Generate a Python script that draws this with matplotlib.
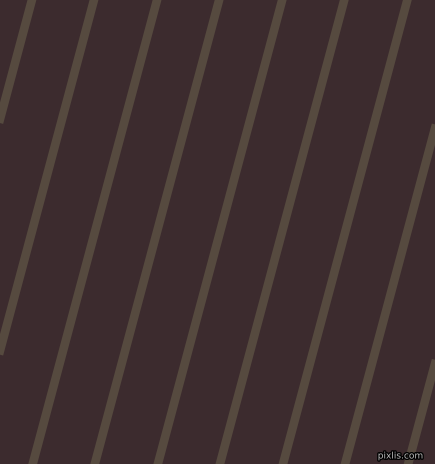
import numpy as np
import matplotlib
matplotlib.use('Agg')
import matplotlib.pyplot as plt
import matplotlib.patheffects as pe

# image size in pixels
W, H = 435, 464

# stripe positions: x where each stripe crosses the top edge
stripe_top_x = [32, 94, 157, 219, 282, 344, 407, 469, 532]
stripe_angle = 75  # degrees from horizontal
stripe_width_px = 8.6

bg_color = '#3c2b2e'
stripe_color = '#564a3f'

fig = plt.figure(figsize=((W + 0.5) / 100, (H + 0.5) / 100), dpi=100)
ax = fig.add_axes([0, 0, 1, 1])
ax.set_xlim(0, W)
ax.set_ylim(H, 0)
ax.axis('off')
fig.patch.set_facecolor(bg_color)
ax.set_facecolor(bg_color)

# dx per pixel of y
k = 1 / np.tan(np.radians(stripe_angle))
ys = np.array([-20, H + 20])
for x0 in stripe_top_x:
    xs = x0 - k * ys
    ax.plot(xs, ys, color=stripe_color, lw=stripe_width_px * 0.72,
            solid_capstyle='butt')

txt = ax.text(423, 456, 'pixlis.com', color='#bdbdbd', fontsize=6.5,
              ha='right', va='center', family='DejaVu Sans')
txt.set_path_effects([pe.withStroke(linewidth=2, foreground='black')])

fig.savefig('out.png', dpi=100, facecolor=bg_color)
